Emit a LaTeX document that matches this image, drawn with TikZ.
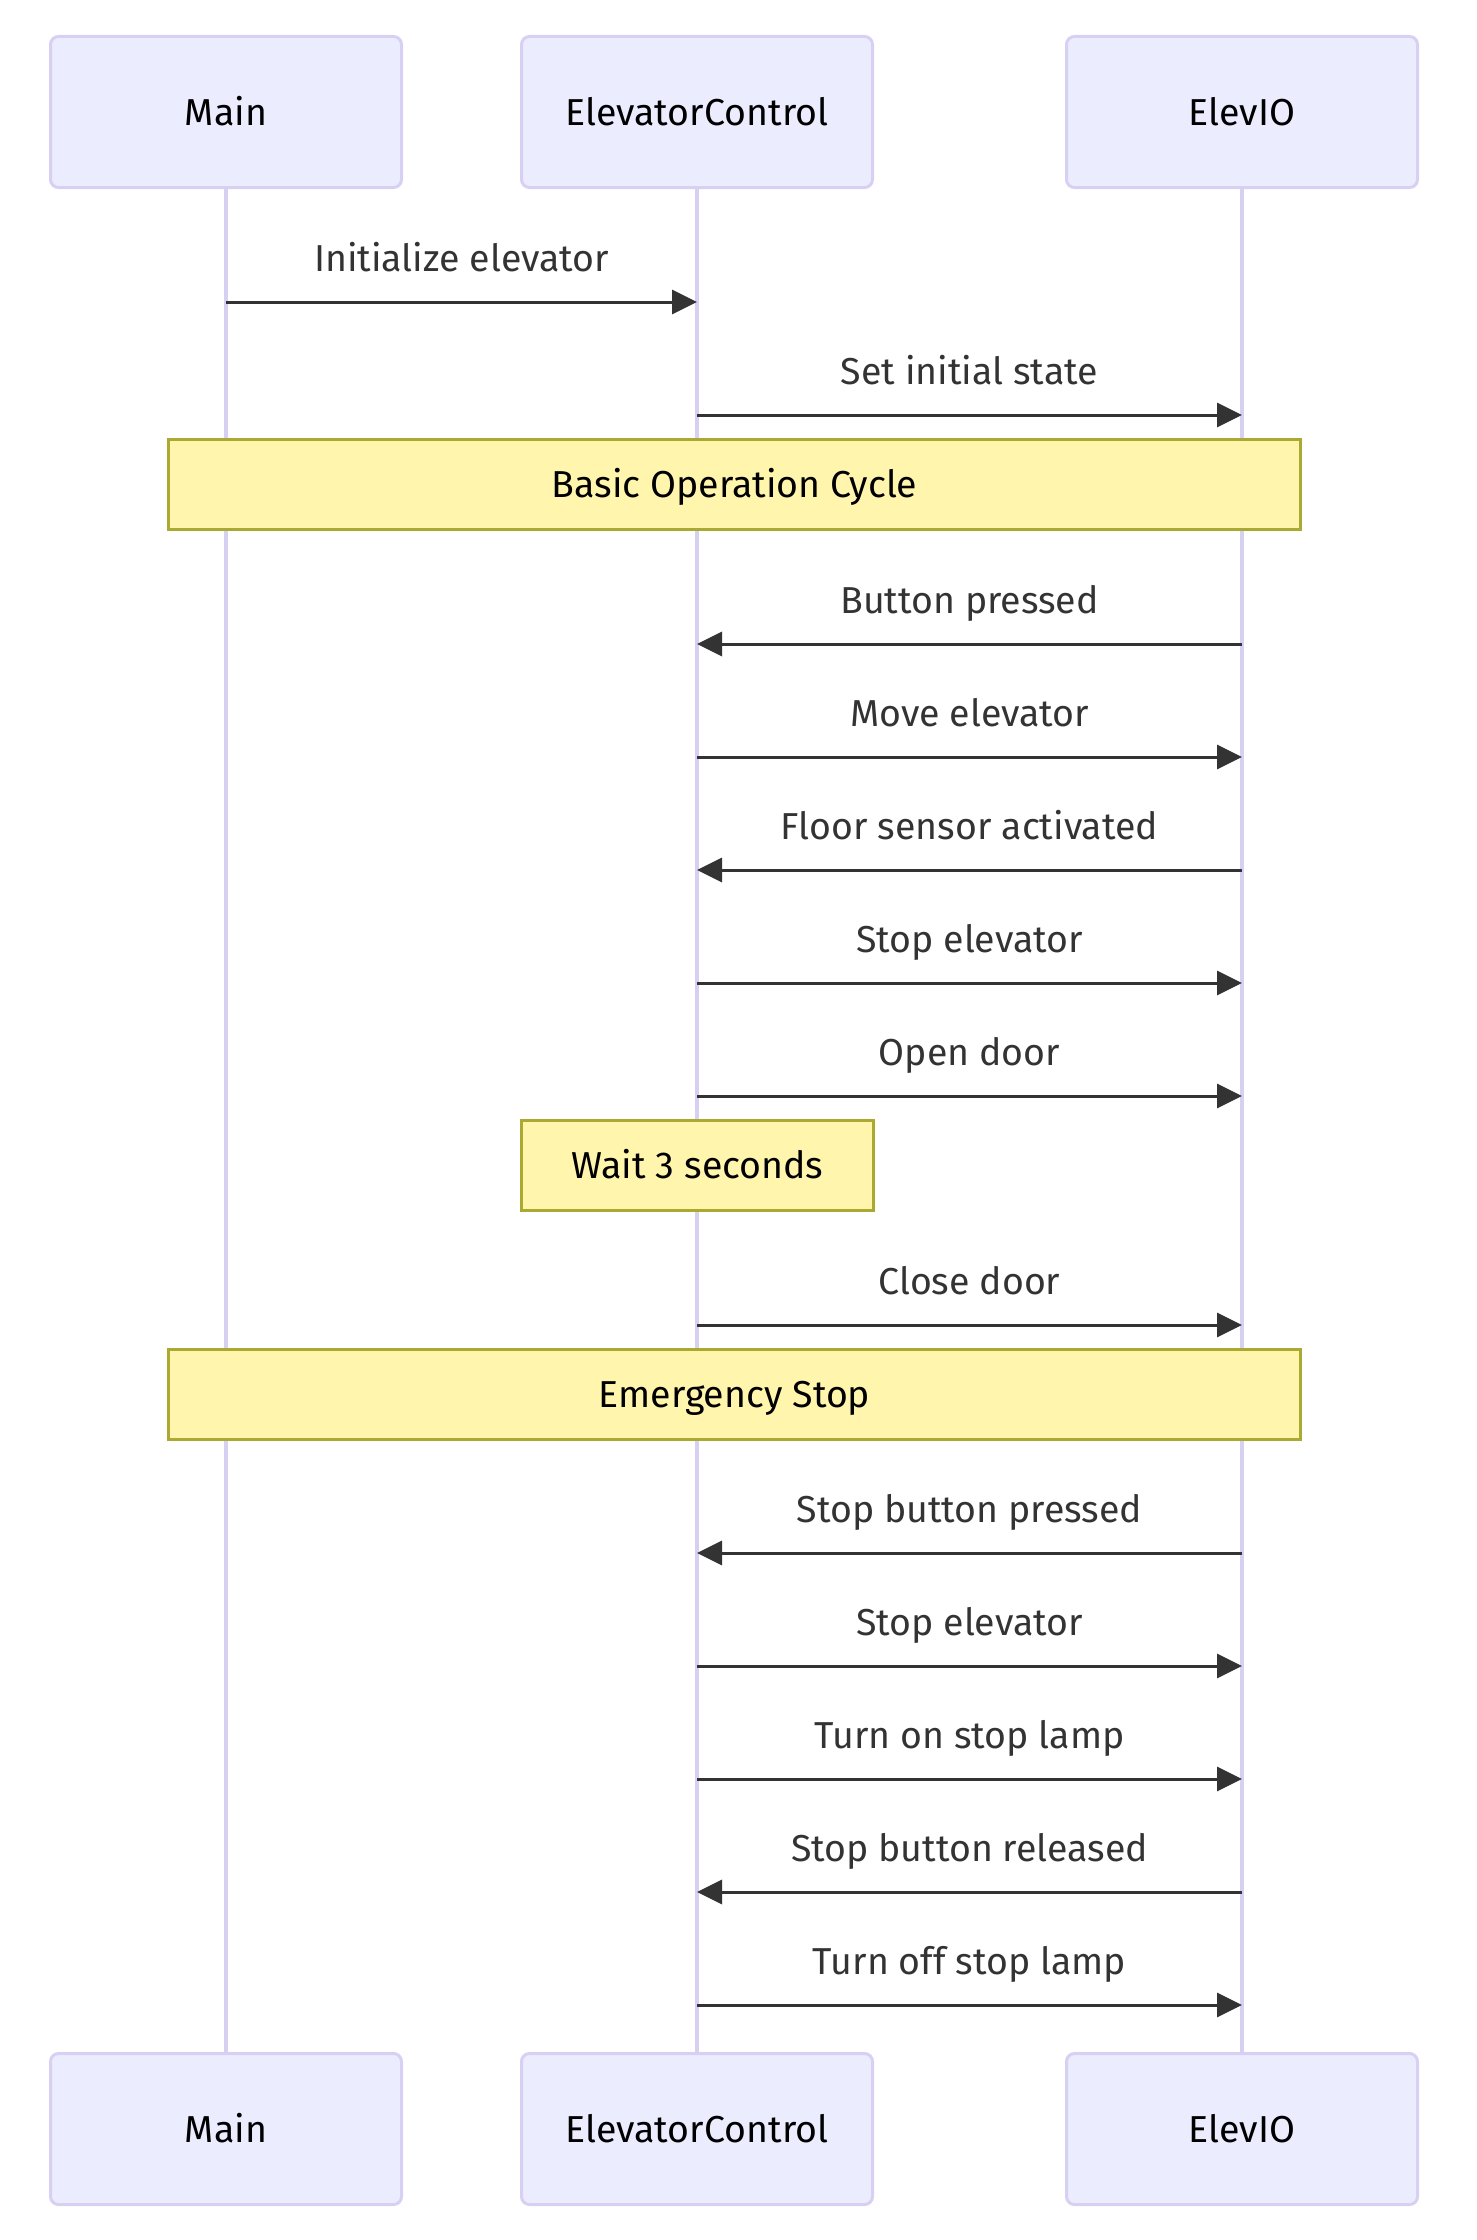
\documentclass[tikz,border=0pt]{standalone}
\usepackage{fontspec}
\setmainfont{Fira Sans}
\usetikzlibrary{arrows.meta}
\definecolor{actorfill}{HTML}{ECECFF}
\definecolor{actorline}{HTML}{D7D0F2}
\definecolor{notefill}{HTML}{FFF5AD}
\definecolor{noteline}{HTML}{AAAA33}
\definecolor{msgcol}{HTML}{333333}

\begin{document}
\begin{tikzpicture}[x=1pt, y=-1pt,
    actor/.style={draw=actorline, fill=actorfill, line width=3pt, rounded corners=8pt, minimum width=351pt, minimum height=151pt, text height=26pt, text depth=0pt, font=\fontsize{37.5}{45}\selectfont},
    note/.style={draw=noteline, fill=notefill, line width=3pt, minimum height=90pt, text height=26pt, text depth=0pt, font=\fontsize{37.5}{45}\selectfont},
    life/.style={draw=actorline, line width=4pt},
    msg/.style={draw=msgcol, line width=3pt, -{Triangle[length=25pt, width=24pt]}},
    lbl/.style={midway, anchor=base, yshift=31pt, text=msgcol, font=\fontsize{37.5}{45}\selectfont}]
        \useasboundingbox (0,0) rectangle (1476,2240);

        % participants, top and bottom
        \node[actor] (mainT) at (226,112) {Main};
        \node[actor] (ctrlT) at (697,112) {ElevatorControl};
        \node[actor] (ioT) at (1242,112) {ElevIO};
        \node[actor] (mainB) at (226,2129) {Main};
        \node[actor] (ctrlB) at (697,2129) {ElevatorControl};
        \node[actor] (ioB) at (1242,2129) {ElevIO};

        \draw[life] (mainT) -- (mainB);
        \draw[life] (ctrlT) -- (ctrlB);
        \draw[life] (ioT) -- (ioB);

        % notes
        \node[note, minimum width=1132pt] (basic) at (734.5,484.5) {Basic Operation Cycle};
        \node[note, minimum width=352pt] (wait) at (697.5,1165.5) {Wait 3 seconds};
        \node[note, minimum width=1132pt] (emergency) at (734.5,1394) {Emergency Stop};

        % messages
        \draw[msg] (mainT |- 0,302) -- node[lbl]{Initialize elevator} (ctrlT |- 0,302);
        \draw[msg] (ctrlT |- 0,415) -- node[lbl]{Set initial state} (ioT |- 0,415);
        \draw[msg] (ioT |- 0,644) -- node[lbl]{Button pressed} (ctrlT |- 0,644);
        \draw[msg] (ctrlT |- 0,757) -- node[lbl]{Move elevator} (ioT |- 0,757);
        \draw[msg] (ioT |- 0,870) -- node[lbl]{Floor sensor activated} (ctrlT |- 0,870);
        \draw[msg] (ctrlT |- 0,983) -- node[lbl]{Stop elevator} (ioT |- 0,983);
        \draw[msg] (ctrlT |- 0,1096) -- node[lbl]{Open door} (ioT |- 0,1096);
        \draw[msg] (ctrlT |- 0,1325) -- node[lbl]{Close door} (ioT |- 0,1325);
        \draw[msg] (ioT |- 0,1553) -- node[lbl]{Stop button pressed} (ctrlT |- 0,1553);
        \draw[msg] (ctrlT |- 0,1666) -- node[lbl]{Stop elevator} (ioT |- 0,1666);
        \draw[msg] (ctrlT |- 0,1779) -- node[lbl]{Turn on stop lamp} (ioT |- 0,1779);
        \draw[msg] (ioT |- 0,1892) -- node[lbl]{Stop button released} (ctrlT |- 0,1892);
        \draw[msg] (ctrlT |- 0,2005) -- node[lbl]{Turn off stop lamp} (ioT |- 0,2005);
    \end{tikzpicture}
\end{document}
